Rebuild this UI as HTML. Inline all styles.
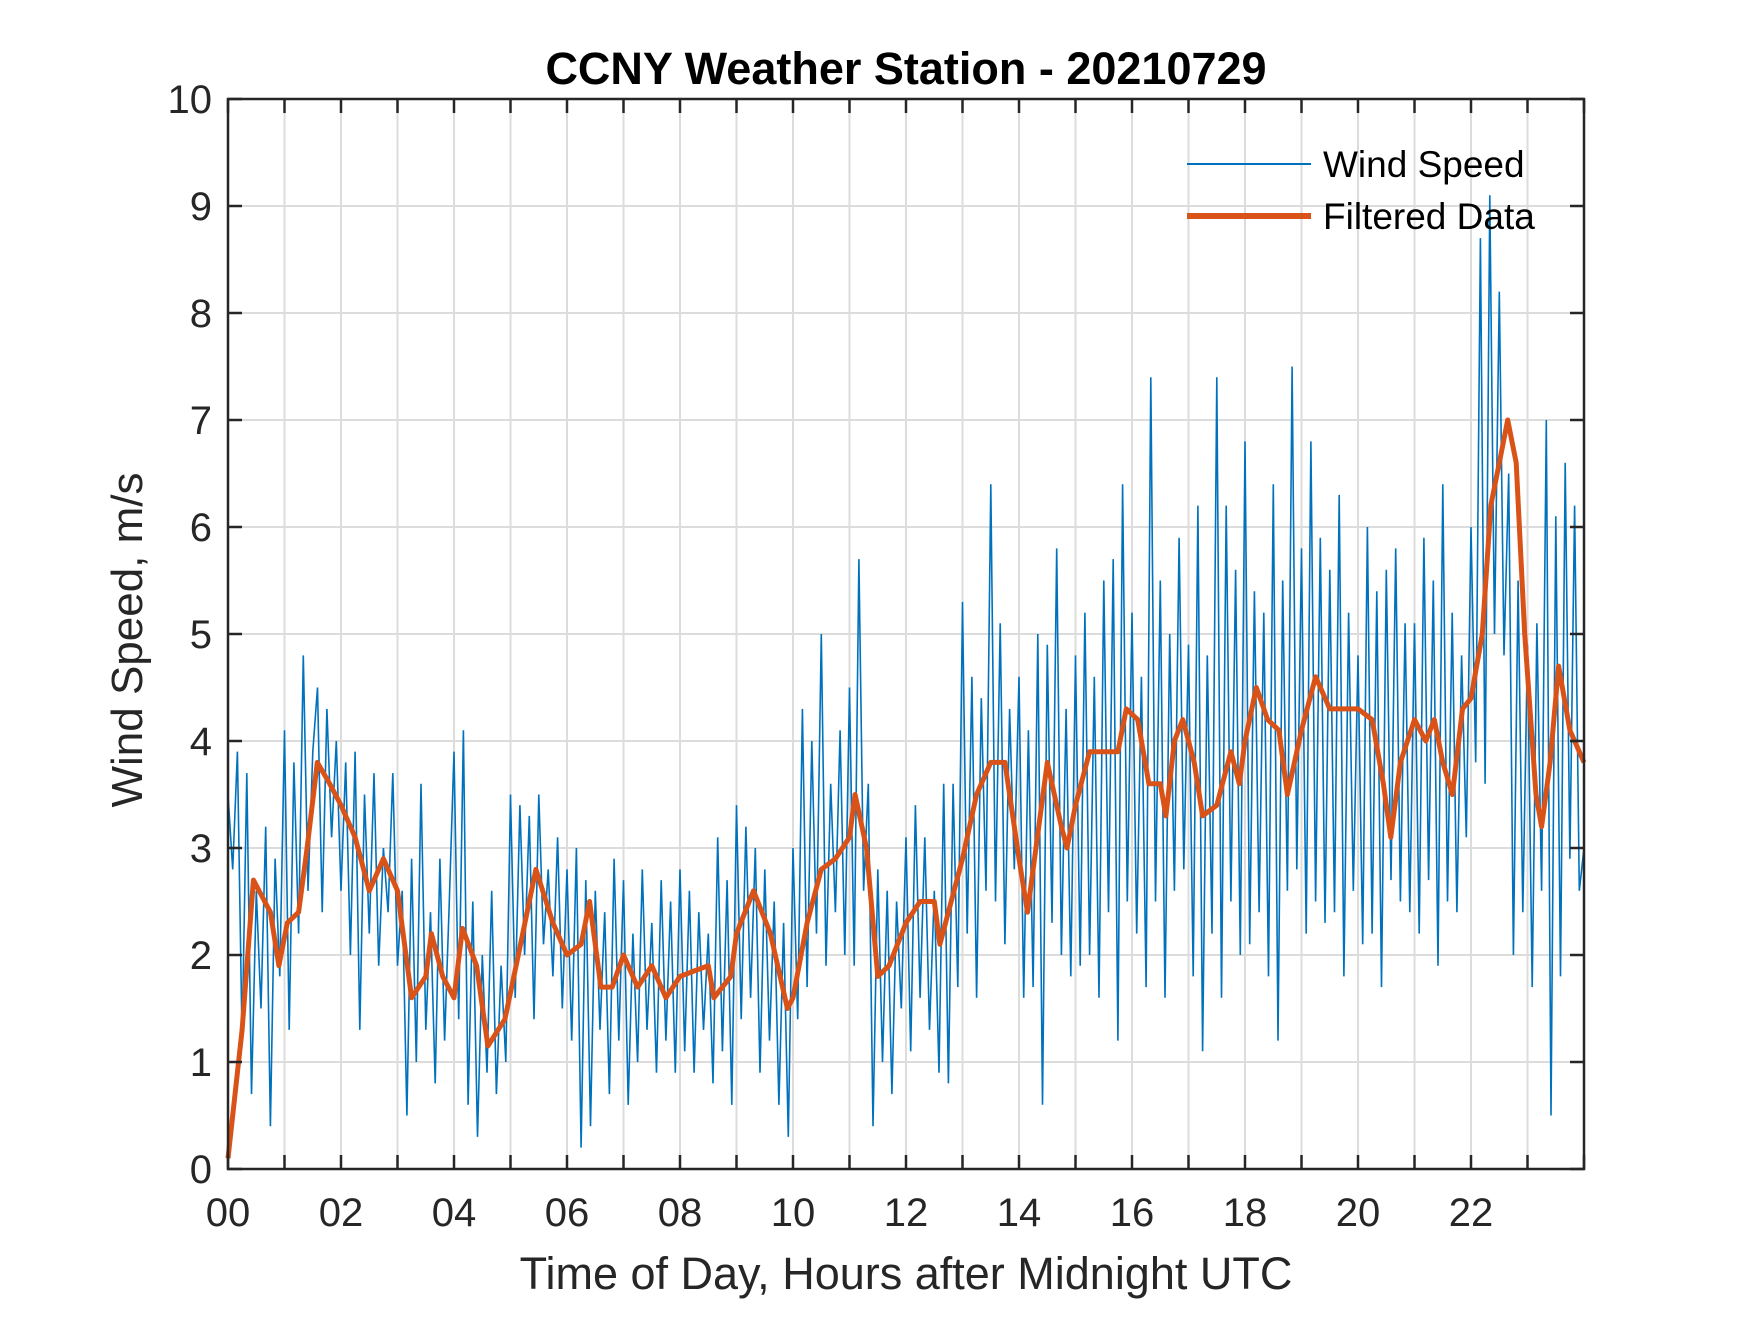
<!DOCTYPE html>
<html><head><meta charset="utf-8"><style>
body{margin:0;background:#fff}
svg text{font-family:"Liberation Sans",Arial,sans-serif}
</style></head><body>
<svg id="chart" width="1750" height="1313" viewBox="0 0 1750 1313" xmlns="http://www.w3.org/2000/svg">
<rect width="1750" height="1313" fill="#fff"/>
<g id="grid"></g>
<g id="series"></g>
<g id="axes"></g>
<text x="906" y="84" font-size="45" font-weight="bold" text-anchor="middle" fill="#000">CCNY Weather Station - 20210729</text>
<text x="906" y="1289" font-size="45" text-anchor="middle" fill="#262626">Time of Day, Hours after Midnight UTC</text>
<text transform="translate(142,640) rotate(-90)" font-size="44" text-anchor="middle" fill="#262626">Wind Speed, m/s</text>
<g>
<line x1="1187" y1="164" x2="1311" y2="164" stroke="#0072BD" stroke-width="2"/>
<text x="1323" y="177" font-size="37" fill="#000">Wind Speed</text>
<line x1="1187" y1="216" x2="1311" y2="216" stroke="#D95319" stroke-width="6"/>
<text x="1323" y="229" font-size="37" fill="#000">Filtered Data</text>
</g>
</svg>
<script>
const xTickLabels=["00","02","04","06","08","10","12","14","16","18","20","22"];
const yTickLabels=["0","1","2","3","4","5","6","7","8","9","10"];
const rawValues=[
3.5,2.8,3.9,1.2,3.7,0.7,2.6,1.5,3.2,0.4,2.9,1.8,
4.1,1.3,3.8,2.2,4.8,2.6,3.9,4.5,2.4,4.3,3.1,4.0,
2.6,3.8,2.0,3.9,1.3,3.5,2.2,3.7,1.9,3.0,2.4,3.7,
1.9,2.6,0.5,2.9,1.0,3.6,1.3,2.4,0.8,2.9,1.2,2.5,
3.9,1.4,4.1,0.6,2.5,0.3,2.0,0.9,2.6,0.7,1.9,1.0,
3.5,1.6,3.4,2.0,3.3,1.4,3.5,2.1,2.8,1.8,3.1,1.5,
2.8,1.2,3.0,0.2,2.7,0.4,2.6,1.3,2.4,0.7,2.9,1.2,
2.7,0.6,2.2,1.0,2.8,1.3,2.3,0.9,2.7,1.2,2.5,0.9,
2.8,1.1,2.6,0.9,2.4,1.3,2.2,0.8,3.1,1.1,2.7,0.6,
3.4,1.4,3.2,1.6,3.0,0.9,2.8,1.2,2.5,0.6,2.3,0.3,
3.0,1.4,4.3,1.7,4.0,2.2,5.0,1.9,3.6,2.4,4.1,2.0,
4.5,1.9,5.7,2.6,3.6,0.4,2.8,1.0,2.6,0.7,2.5,1.5,
3.1,1.1,3.4,1.6,3.1,1.3,2.6,0.9,3.6,0.8,3.6,1.7,
5.3,2.2,4.6,1.6,4.4,2.6,6.4,2.5,5.1,2.1,4.3,2.8,
4.6,1.6,4.1,1.7,5.0,0.6,4.9,2.3,5.8,2.0,4.3,1.8,
4.8,1.9,5.2,2.0,4.6,1.6,5.5,2.4,5.7,1.2,6.4,2.5,
5.2,2.2,4.6,1.7,7.4,2.5,5.5,1.6,5.0,2.6,5.9,2.8,
4.9,1.8,6.2,1.1,4.8,2.2,7.4,1.6,6.2,2.5,5.6,2.0,
6.8,2.1,5.4,2.4,5.2,1.8,6.4,1.2,5.5,2.6,7.5,2.8,
5.8,2.2,6.8,2.5,5.9,2.3,5.6,2.4,6.3,1.8,5.2,2.6,
4.8,2.1,6.0,2.2,5.4,1.7,5.6,2.7,5.8,2.5,5.1,2.4,
5.1,2.2,5.9,2.7,5.5,1.9,6.4,2.5,5.2,2.4,4.8,3.1,
6.0,3.8,8.7,3.6,9.1,5.0,8.2,4.8,6.5,2.0,5.5,2.4,
4.9,1.7,5.1,2.6,7.0,0.5,6.1,1.8,6.6,2.9,6.2,2.6,3.0];
const filteredHours=[0,0.25,0.45,0.75,0.9,1.05,1.25,1.4,1.58,1.8,2.0,2.25,2.5,2.75,3.0,3.25,3.5,3.6,3.8,4.0,4.15,4.4,4.6,4.9,5.1,5.45,5.75,6.0,6.25,6.4,6.6,6.8,7.0,7.25,7.5,7.75,8.0,8.25,8.5,8.6,8.9,9.0,9.3,9.6,9.9,10.0,10.25,10.5,10.75,11.0,11.1,11.3,11.5,11.7,12.0,12.25,12.5,12.6,13.0,13.25,13.5,13.75,14.0,14.15,14.25,14.5,14.75,14.85,15.0,15.25,15.5,15.75,15.9,16.1,16.3,16.5,16.6,16.75,16.9,17.1,17.25,17.5,17.75,17.9,18.0,18.2,18.4,18.6,18.75,19.0,19.25,19.5,19.75,20.0,20.25,20.45,20.58,20.75,21.0,21.2,21.35,21.5,21.67,21.85,22.0,22.2,22.35,22.5,22.65,22.8,22.95,23.15,23.25,23.4,23.55,23.75,24.0];
const filteredValues=[0.1,1.3,2.7,2.4,1.9,2.3,2.4,3.0,3.8,3.6,3.4,3.1,2.6,2.9,2.6,1.6,1.8,2.2,1.8,1.6,2.25,1.9,1.15,1.4,1.9,2.8,2.3,2.0,2.1,2.5,1.7,1.7,2.0,1.7,1.9,1.6,1.8,1.85,1.9,1.6,1.8,2.2,2.6,2.2,1.5,1.6,2.3,2.8,2.9,3.1,3.5,3.0,1.8,1.9,2.3,2.5,2.5,2.1,2.9,3.5,3.8,3.8,2.9,2.4,2.8,3.8,3.2,3.0,3.4,3.9,3.9,3.9,4.3,4.2,3.6,3.6,3.3,4.0,4.2,3.8,3.3,3.4,3.9,3.6,4.0,4.5,4.2,4.1,3.5,4.1,4.6,4.3,4.3,4.3,4.2,3.6,3.1,3.8,4.2,4.0,4.2,3.8,3.5,4.3,4.4,5.0,6.2,6.6,7.0,6.6,5.0,3.5,3.2,3.8,4.7,4.1,3.8];

const L=228,R=1584,T=99,B=1169,NS="http://www.w3.org/2000/svg";
const xS=h=>L+(R-L)*h/24;
const yS=v=>B-(B-T)*v/10;
function mk(tag,attrs,parent){const e=document.createElementNS(NS,tag);for(const k in attrs)e.setAttribute(k,attrs[k]);parent.appendChild(e);return e;}
const grid=document.getElementById('grid'),axes=document.getElementById('axes'),series=document.getElementById('series');
for(let h=1;h<24;h++){const g=mk('line',{x1:xS(h),x2:xS(h),y1:T,y2:B,stroke:'#dcdcdc','stroke-width':2},grid);

}
for(let v=1;v<10;v++){const g=mk('line',{x1:L,x2:R,y1:yS(v),y2:yS(v),stroke:'#dcdcdc','stroke-width':2},grid);

}
let d='';const n=rawValues.length-1;
rawValues.forEach((v,i)=>{d+=(i?'L':'M')+xS(24*i/n).toFixed(1)+','+yS(v).toFixed(1);});
const raw=mk('path',{d:d,fill:'none',stroke:'#0072BD','stroke-width':1.6,'stroke-linejoin':'miter'},series);


let d2='';filteredValues.forEach((v,i)=>{d2+=(i?'L':'M')+xS(filteredHours[i]).toFixed(1)+','+yS(v).toFixed(1);});
const fl=mk('path',{d:d2,fill:'none',stroke:'#D95319','stroke-width':5,'stroke-linejoin':'round'},series);


const box=mk('rect',{x:L,y:T,width:R-L,height:B-T,fill:'none',stroke:'#262626','stroke-width':2.5},axes);


for(let h=0;h<=24;h++){
 mk('line',{x1:xS(h),x2:xS(h),y1:B,y2:B-14,stroke:'#262626','stroke-width':2.5},axes);
 mk('line',{x1:xS(h),x2:xS(h),y1:T,y2:T+14,stroke:'#262626','stroke-width':2.5},axes);
}
xTickLabels.forEach((s,i)=>{const t=mk('text',{x:xS(2*i),y:1226,'font-size':40,'text-anchor':'middle',fill:'#262626'},axes);t.textContent=s;

});
yTickLabels.forEach((s,i)=>{
 mk('line',{x1:L,x2:L+14,y1:yS(i),y2:yS(i),stroke:'#262626','stroke-width':2.5},axes);
 mk('line',{x1:R,x2:R-14,y1:yS(i),y2:yS(i),stroke:'#262626','stroke-width':2.5},axes);
 const t=mk('text',{x:212,y:yS(i)+14,'font-size':40,'text-anchor':'end',fill:'#262626'},axes);t.textContent=s;
 
 });
</script>
</body></html>
